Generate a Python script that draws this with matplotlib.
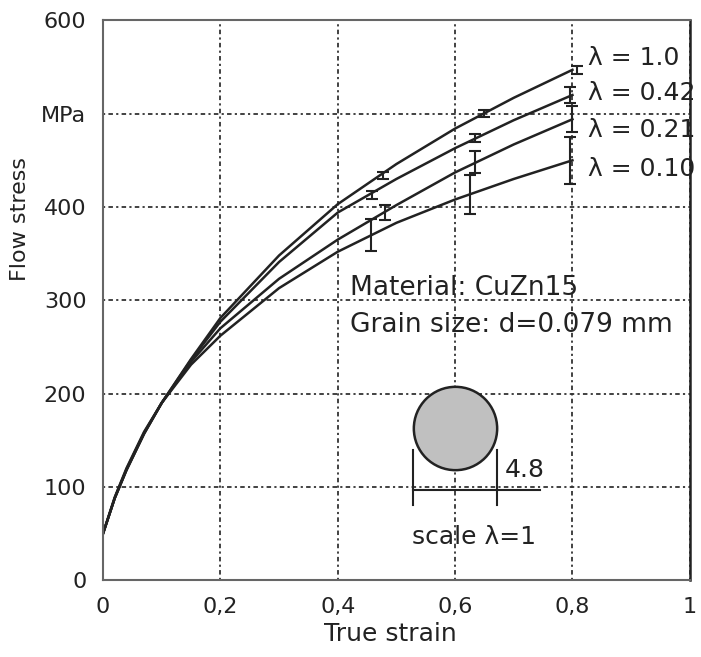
import numpy as np
import matplotlib
matplotlib.use("Agg")
import matplotlib.pyplot as plt

# flow curves (true strain -> flow stress in MPa)
strain = [0, 0.02, 0.04, 0.07, 0.1, 0.15, 0.2, 0.3, 0.4, 0.5, 0.6, 0.7, 0.8]
stress_100 = [50, 88, 118, 157, 190, 237, 281, 348, 403, 446, 484, 517, 547]
stress_042 = [50, 88, 118, 157, 190, 236, 277, 341, 394, 430, 463, 493, 520]
stress_021 = [50, 88, 119, 158, 190, 234, 270, 323, 365, 402, 437, 467, 494]
stress_010 = [50, 89, 120, 159, 190, 231, 262, 313, 352, 383, 408, 430, 450]

# error bars: strain position, mean, half width
err_x_100 = [0.477, 0.65, 0.807]
err_y_100 = [434, 500, 547]
err_e_100 = [4, 4, 4]
err_x_042 = [0.458, 0.634, 0.795]
err_y_042 = [413, 474, 520]
err_e_042 = [4, 4, 9]
err_x_021 = [0.48, 0.634, 0.8]
err_y_021 = [394, 448, 494]
err_e_021 = [8, 12, 14]
err_x_010 = [0.456, 0.625, 0.795]
err_y_010 = [370, 413, 450]
err_e_010 = [17, 21, 25]

labels = ["λ = 1.0", "λ = 0.42", "λ = 0.21", "λ = 0.10"]
label_y = [560, 522, 482, 441]

yticks = [0, 100, 200, 300, 400, 500, 600]
yticklabels = ["0", "100", "200", "300", "400", "MPa", "600"]
xticks = [0, 0.2, 0.4, 0.6, 0.8, 1]
xticklabels = ["0", "0,2", "0,4", "0,6", "0,8", "1"]

fig = plt.figure(figsize=(7.01, 6.57), dpi=100)
ax = fig.add_axes([0.147, 0.117, 0.837, 0.852])

curves = [stress_100, stress_042, stress_021, stress_010]
errs = [(err_x_100, err_y_100, err_e_100), (err_x_042, err_y_042, err_e_042),
        (err_x_021, err_y_021, err_e_021), (err_x_010, err_y_010, err_e_010)]
for s, (ex, ey, ee) in zip(curves, errs):
    ax.plot(strain, s, color="#222222", lw=1.8)
    ax.errorbar(ex, ey, yerr=ee, fmt="none", ecolor="#222222", elinewidth=1.5,
                capsize=4, capthick=1.5)

for lab, ly in zip(labels, label_y):
    ax.text(0.826, ly, lab, fontsize=18, va="center", ha="left", color="#222222")

ax.text(0.421, 313, "Material: CuZn15", fontsize=19, va="center", color="#222222")
ax.text(0.421, 273, "Grain size: d=0.079 mm", fontsize=19, va="center", color="#222222")

# grain sketch
ax.plot([0.6], [163], marker="o", markersize=60, markerfacecolor="#c0c0c0",
        markeredgecolor="#222222", markeredgewidth=1.8)
ax.plot([0.528, 0.528], [80, 139], color="#222222", lw=1.5)
ax.plot([0.671, 0.671], [80, 139], color="#222222", lw=1.5)
ax.plot([0.528, 0.744], [97, 97], color="#222222", lw=1.5)
ax.text(0.685, 118, "4.8", fontsize=18, va="center", ha="left", color="#222222")
ax.text(0.526, 46, "scale λ=1", fontsize=18, va="center", ha="left", color="#222222")

ax.set_xlim(0, 1)
ax.set_ylim(0, 600)
ax.set_xticks(xticks)
ax.set_xticklabels(xticklabels)
ax.set_yticks(yticks)
ax.set_yticklabels(yticklabels)
ax.tick_params(length=0, labelsize=16, pad=12, colors="#222222")
ax.grid(True, color="#333333", lw=1.3, linestyle=(0, (1.2, 1.8, 2.5, 1.8)))

ax.set_xlabel("True strain", fontsize=18, color="#222222")
ax.set_ylabel("Flow stress", fontsize=16, color="#222222")
ax.xaxis.set_label_coords(0.49, -0.075)
ax.yaxis.set_label_coords(-0.125, 0.645)

for side in ["left", "bottom", "top"]:
    ax.spines[side].set_color("#666666")
    ax.spines[side].set_linewidth(1.5)
ax.spines["right"].set_color("#222222")
ax.spines["right"].set_linewidth(1.8)

fig.savefig("out.png", dpi=100)
